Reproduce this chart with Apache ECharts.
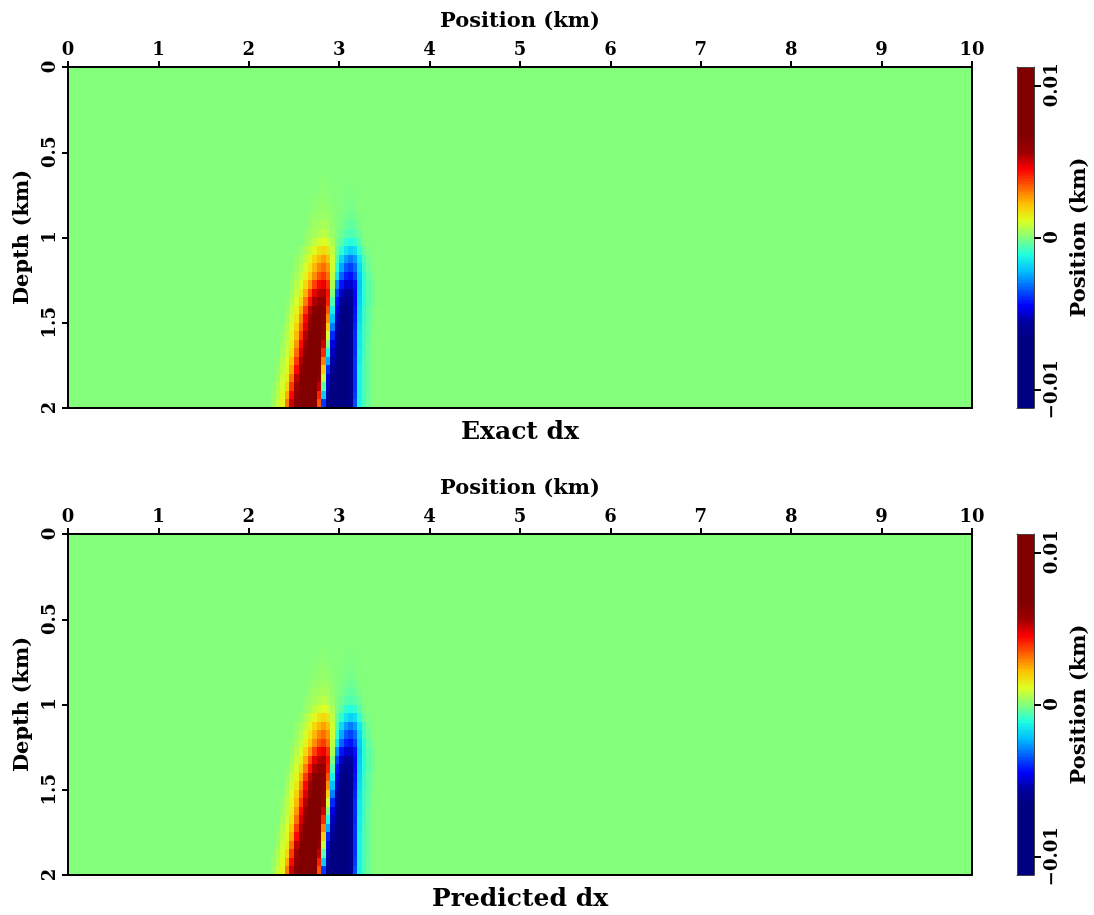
<!DOCTYPE html>
<html>
<head>
<meta charset="utf-8">
<title>Exact and predicted dx</title>
<script src="https://cdn.jsdelivr.net/npm/echarts@6/dist/echarts.min.js"></script>
<style>
  html, body { margin: 0; padding: 0; background: #ffffff; }
  #chart { width: 1094px; height: 915px; }
</style>
</head>
<body>
<div id="chart"></div>
<script>
// Horizontal displacement dx (metres) on a 0.05 km grid.
// Outside the window below the field is zero.
const anomalyPositions = [2.225, 2.275, 2.325, 2.375, 2.425, 2.475, 2.525, 2.575, 2.625, 2.675,
  2.725, 2.775, 2.825, 2.875, 2.925, 2.975, 3.025, 3.075, 3.125, 3.175, 3.225, 3.275, 3.325, 3.375, 3.425];
const anomalyDepths = [0.625, 0.675, 0.725, 0.775, 0.825, 0.875, 0.925, 0.975, 1.025, 1.075,
  1.125, 1.175, 1.225, 1.275, 1.325, 1.375, 1.425, 1.475, 1.525, 1.575, 1.625, 1.675, 1.725,
  1.775, 1.825, 1.875, 1.925, 1.975];

const exactDxRows = [
  [0,0,0,0,0,0,0,0,0,0,0,0,0.03,0,0,0,0,0,0,0,0,0,0,0,0],
  [0,0,0,0,0,0,0,0,0,0,0,0.04,0.05,0.04,0,0,0,0,-0.03,0,0,0,0,0,0],
  [0,0,0,0,0,0,0,0,0,0,0,0.08,0.1,0.08,0,0,0,0,-0.06,0,0,0,0,0,0],
  [0,0,0,0,0,0,0,0,0,0,0.06,0.12,0.15,0.12,0.03,0,0,-0.06,-0.1,-0.06,0,0,0,0,0],
  [0,0,0,0,0,0,0,0,0,0,0.1,0.17,0.2,0.17,0.06,0,0,-0.1,-0.15,-0.1,0,0,0,0,0],
  [0,0,0,0,0,0,0,0,0,0.1,0.18,0.25,0.3,0.25,0.1,0,-0.06,-0.18,-0.24,-0.18,-0.06,0,0,0,0],
  [0,0,0,0,0,0,0,0,0,0.18,0.3,0.38,0.45,0.38,0.15,0,-0.12,-0.3,-0.38,-0.3,-0.12,0,0,0,0],
  [0,0,0,0,0,0,0,0,0.1,0.25,0.4,0.55,0.7,0.55,0.22,-0.06,-0.25,-0.48,-0.6,-0.48,-0.25,-0.06,0,0,0],
  [0,0,0,0,0,0,0,0,0.2,0.4,0.7,1.0,1.1,1.0,0.45,-0.15,-0.5,-0.9,-1.1,-0.9,-0.5,-0.15,0,0,0],
  [0,0,0,0,0,0,0,0.25,0.45,0.75,1.2,1.6,1.8,1.6,0.7,-0.3,-1.0,-1.6,-1.9,-1.7,-0.95,-0.35,-0.1,0,0],
  [0,0,0,0,0,0,0.2,0.4,0.7,1.2,1.8,2.3,2.6,2.2,0.9,-0.6,-1.8,-2.6,-3.0,-2.6,-1.5,-0.7,-0.2,0,0],
  [0,0,0,0,0,0,0.3,0.6,1.0,1.5,2.3,2.9,3.2,2.7,0.9,-1.0,-2.5,-3.4,-3.7,-3.2,-1.8,-0.8,-0.3,0,0],
  [0,0,0,0,0,0.1,0.4,0.8,1.3,2.0,2.8,3.5,3.8,3.1,0.7,-1.6,-3.3,-4.1,-4.3,-3.7,-2.0,-1.0,-0.4,-0.1,0],
  [0,0,0,0,0,0.2,0.6,1.1,1.8,2.7,3.7,4.4,4.7,3.9,0.5,-2.8,-4.3,-5.0,-5.0,-4.3,-2.1,-1.0,-0.5,-0.2,0],
  [0,0,0,0,0,0.3,0.8,1.4,2.4,3.6,4.7,5.3,5.4,4.3,0,-3.7,-5.1,-5.7,-5.6,-4.4,-2.0,-1.0,-0.5,-0.2,0],
  [0,0,0,0,0.1,0.5,1.0,1.8,3.0,4.3,5.4,5.9,5.9,4.1,-0.6,-4.3,-5.7,-6.3,-6.0,-4.4,-1.9,-1.0,-0.5,-0.2,0],
  [0,0,0,0,0.2,0.7,1.3,2.4,3.8,5.2,6.3,6.6,6.2,3.5,-1.4,-4.8,-6.3,-7.0,-6.2,-4.3,-1.8,-0.9,-0.4,-0.1,0],
  [0,0,0,0,0.4,0.9,1.5,2.9,4.4,5.7,6.6,6.8,6.2,2.8,-2.2,-5.2,-6.6,-7.2,-6.3,-4.2,-1.7,-0.9,-0.4,-0.1,0],
  [0,0,0,0.1,0.5,1.1,1.9,3.3,4.8,6.1,7.0,7.0,6.1,2.0,-3.0,-5.5,-7.0,-7.3,-6.3,-4.1,-1.6,-0.8,-0.4,0,0],
  [0,0,0,0.2,0.7,1.2,2.3,3.8,5.3,6.6,7.2,7.0,5.8,1.0,-4.0,-5.9,-7.2,-7.4,-6.3,-4.0,-1.5,-0.8,-0.4,0,0],
  [0,0,0,0.3,0.8,1.4,2.7,4.4,5.8,7.0,7.4,7.0,5.0,0,-4.8,-6.2,-7.4,-7.5,-6.3,-4.0,-1.5,-0.8,-0.3,0,0],
  [0,0,0,0.4,0.9,1.6,3.2,4.9,6.3,7.4,7.6,7.0,4.0,-1.2,-5.2,-6.6,-7.6,-7.5,-6.3,-4.0,-1.4,-0.8,-0.3,0,0],
  [0,0,0.1,0.6,1.1,2.1,3.8,5.4,6.8,7.6,7.6,6.8,3.0,-2.5,-5.5,-7.0,-7.8,-7.5,-6.3,-3.9,-1.4,-0.7,-0.3,0,0],
  [0,0,0.2,0.7,1.2,2.5,4.4,6.0,7.2,7.8,7.6,6.5,2.0,-4.0,-6.0,-7.4,-8.0,-7.5,-6.3,-3.9,-1.3,-0.7,-0.3,0,0],
  [0,0,0.3,0.9,1.4,3.1,5.2,6.6,7.6,8.0,7.6,6.1,0.8,-4.8,-6.6,-7.6,-8.0,-7.5,-6.3,-3.9,-1.3,-0.7,-0.3,0,0],
  [0,0.1,0.5,1.0,1.8,3.8,5.6,7.0,7.8,8.0,7.4,5.2,-0.5,-5.2,-7.0,-7.8,-8.0,-7.5,-6.3,-3.9,-1.3,-0.7,-0.3,0,0],
  [0,0.2,0.6,1.2,2.4,4.4,6.1,7.3,8.0,8.0,7.2,4.1,-2.0,-5.7,-7.3,-8.0,-8.0,-7.5,-6.3,-3.8,-1.3,-0.7,-0.3,0,0],
  [0,0.3,0.8,1.3,3.0,5.1,6.5,7.5,8.0,8.0,7.0,3.5,-3.8,-6.2,-7.5,-8.0,-8.0,-7.5,-6.2,-3.6,-1.3,-0.7,-0.3,0,0]
];
// The predicted field agrees with the exact one to plotting precision.
const predictedDxRows = exactDxRows.map(row => row.slice());

// Axes and colour scale
const positionTicks = [0, 1, 2, 3, 4, 5, 6, 7, 8, 9, 10];
const depthTicks = [0, 0.5, 1, 1.5, 2];
const colorTicks = [-0.01, 0, 0.01];
const colorRange = [-0.0112, 0.0112];
const panelTitles = ['Exact dx', 'Predicted dx'];

// ---------------------------------------------------------------------------
const FONT = '"DejaVu Serif", "Liberation Serif", serif';
const cellSize = 0.05;
const nCols = Math.round((positionTicks[positionTicks.length - 1] - positionTicks[0]) / cellSize);
const nRows = Math.round((depthTicks[depthTicks.length - 1] - depthTicks[0]) / cellSize);
const col0 = Math.round((anomalyPositions[0] - cellSize / 2) / cellSize);
const row0 = Math.round((anomalyDepths[0] - cellSize / 2) / cellSize);

function fieldCells(rows) {
  const cells = [];
  for (let j = 0; j < nRows; j++) {
    for (let i = 0; i < nCols; i++) {
      const r = j - row0, c = i - col0;
      const metres = (r >= 0 && r < rows.length && c >= 0 && c < rows[r].length) ? rows[r][c] : 0;
      cells.push([(i + 0.5) * cellSize, (j + 0.5) * cellSize, metres / 1000]);
    }
  }
  return cells;
}

// colour bar ramp: [x, lower edge, value, upper edge]
const rampSteps = 240;
const rampCells = [];
for (let k = 0; k < rampSteps; k++) {
  const lo = colorRange[0] + (colorRange[1] - colorRange[0]) * k / rampSteps;
  const hi = colorRange[0] + (colorRange[1] - colorRange[0]) * (k + 1) / rampSteps;
  rampCells.push([0.5, lo, (lo + hi) / 2, hi]);
}

// jet-like table, evenly spaced from colorRange[0] to colorRange[1]
const jetColors = [
  '#000080', '#000080', '#000080', '#000080', '#000080',
  '#00009c', '#0000fc', '#005eff', '#00beff', '#20ffe0',
  '#84ff7b',
  '#dfff20', '#ffbe00', '#ff5e00', '#fc0000', '#9c0000',
  '#800000', '#800000', '#800000', '#800000', '#800000'
];

function snapRect(p0, p1) {
  const x0 = Math.round(Math.min(p0[0], p1[0])), x1 = Math.round(Math.max(p0[0], p1[0]));
  const y0 = Math.round(Math.min(p0[1], p1[1])), y1 = Math.round(Math.max(p0[1], p1[1]));
  return { x: x0, y: y0, width: x1 - x0, height: y1 - y0 };
}

function renderCell(params, api) {
  const x = api.value(0), d = api.value(1);
  const shape = snapRect(api.coord([x - cellSize / 2, d - cellSize / 2]),
                         api.coord([x + cellSize / 2, d + cellSize / 2]));
  return { type: 'rect', shape, style: { fill: api.visual('color') }, silent: true };
}

function renderRamp(params, api) {
  const shape = snapRect(api.coord([0, api.value(1)]), api.coord([1, api.value(3)]));
  return { type: 'rect', shape, style: { fill: api.visual('color') }, silent: true };
}

const labelStyle = { color: '#000', fontFamily: FONT, fontWeight: 'bold', fontSize: 18 };
const nameStyle = { color: '#000', fontFamily: FONT, fontWeight: 'bold', fontSize: 21 };
const frameLine = { show: true, onZero: false, lineStyle: { color: '#000', width: 2 } };
const barLine = { show: true, onZero: false, lineStyle: { color: '#444', width: 1 } };
const noTick = { show: false };
const noLabel = { show: false };
const noSplit = { show: false };

const plotTops = [67, 534];
const grids = [], xAxes = [], yAxes = [], series = [], graphics = [];

plotTops.forEach((top, p) => {
  const g = grids.length;
  grids.push({ left: 68, top, width: 904, height: 341 });
  grids.push({ left: 1017, top, width: 17, height: 341 });

  const xBase = { gridIndex: g, type: 'value', min: positionTicks[0], max: positionTicks[positionTicks.length - 1],
    interval: positionTicks[1] - positionTicks[0], splitLine: noSplit, z: 10 };
  const yBase = { gridIndex: g, type: 'value', min: depthTicks[0], max: depthTicks[depthTicks.length - 1],
    interval: depthTicks[1] - depthTicks[0], inverse: true, splitLine: noSplit, z: 10 };

  const xTop = xAxes.length;
  xAxes.push(Object.assign({}, xBase, {
    position: 'top', name: 'Position (km)', nameLocation: 'middle', nameGap: 35, nameTextStyle: nameStyle,
    axisLine: frameLine, axisTick: { show: true, length: 6, lineStyle: { width: 2, color: '#000' } },
    axisLabel: Object.assign({ margin: 8, showMinLabel: true, showMaxLabel: true }, labelStyle)
  }));
  xAxes.push(Object.assign({}, xBase, { position: 'bottom', axisLine: frameLine, axisTick: noTick, axisLabel: noLabel }));

  const yLeft = yAxes.length;
  yAxes.push(Object.assign({}, yBase, {
    position: 'left', name: 'Depth (km)', nameLocation: 'middle', nameGap: 30, nameTextStyle: nameStyle,
    axisLine: frameLine, axisTick: { show: true, length: 6, lineStyle: { width: 2, color: '#000' } },
    axisLabel: Object.assign({ margin: 9, rotate: 90, showMinLabel: true, showMaxLabel: true }, labelStyle)
  }));
  yAxes.push(Object.assign({}, yBase, { position: 'right', axisLine: frameLine, axisTick: noTick, axisLabel: noLabel }));

  // colour bar axes
  const barX = xAxes.length;
  xAxes.push({ gridIndex: g + 1, type: 'value', min: 0, max: 1, position: 'top', axisLine: barLine,
    axisTick: noTick, axisLabel: noLabel, splitLine: noSplit, z: 10 });
  xAxes.push({ gridIndex: g + 1, type: 'value', min: 0, max: 1, position: 'bottom', axisLine: barLine,
    axisTick: noTick, axisLabel: noLabel, splitLine: noSplit, z: 10 });
  const barY = yAxes.length;
  yAxes.push({ gridIndex: g + 1, type: 'value', min: colorRange[0], max: colorRange[1], position: 'right',
    name: 'Position (km)', nameLocation: 'middle', nameGap: 35, nameTextStyle: nameStyle,
    axisLine: barLine,
    axisTick: { show: true, length: 7, customValues: colorTicks, lineStyle: { width: 2, color: '#000' } },
    axisLabel: Object.assign({
      margin: 9, rotate: 90, customValues: colorTicks,
      formatter: v => (Math.abs(v) < 1e-9 ? '0' : (v < 0 ? '\u2212' : '') + Math.abs(v).toFixed(2))
    }, labelStyle),
    splitLine: noSplit, z: 10 });
  yAxes.push({ gridIndex: g + 1, type: 'value', min: colorRange[0], max: colorRange[1], position: 'left',
    axisLine: barLine, axisTick: noTick, axisLabel: noLabel, splitLine: noSplit, z: 10 });

  series.push({
    type: 'custom', name: panelTitles[p], xAxisIndex: xTop, yAxisIndex: yLeft,
    data: fieldCells(p === 0 ? exactDxRows : predictedDxRows),
    renderItem: renderCell, clip: true, silent: true, z: 2,
    progressive: 0, progressiveThreshold: 1e6
  });
  series.push({
    type: 'custom', name: 'colour bar ' + (p + 1), xAxisIndex: barX, yAxisIndex: barY,
    data: rampCells, renderItem: renderRamp, clip: true, silent: true, z: 2,
    progressive: 0, progressiveThreshold: 1e6
  });

  graphics.push({
    type: 'text', x: 520, y: top + 365,
    style: { text: panelTitles[p], font: 'bold 25px ' + FONT, fill: '#000', textAlign: 'center', textVerticalAlign: 'middle' }
  });
});

const chart = echarts.init(document.getElementById('chart'), null, { renderer: 'canvas' });
chart.setOption({
  backgroundColor: '#ffffff',
  animation: false,
  grid: grids,
  xAxis: xAxes,
  yAxis: yAxes,
  visualMap: {
    type: 'continuous', show: false, dimension: 2,
    min: colorRange[0], max: colorRange[1],
    seriesIndex: series.map((s, i) => i),
    inRange: { color: jetColors }
  },
  series,
  graphic: graphics
});
</script>
</body>
</html>
